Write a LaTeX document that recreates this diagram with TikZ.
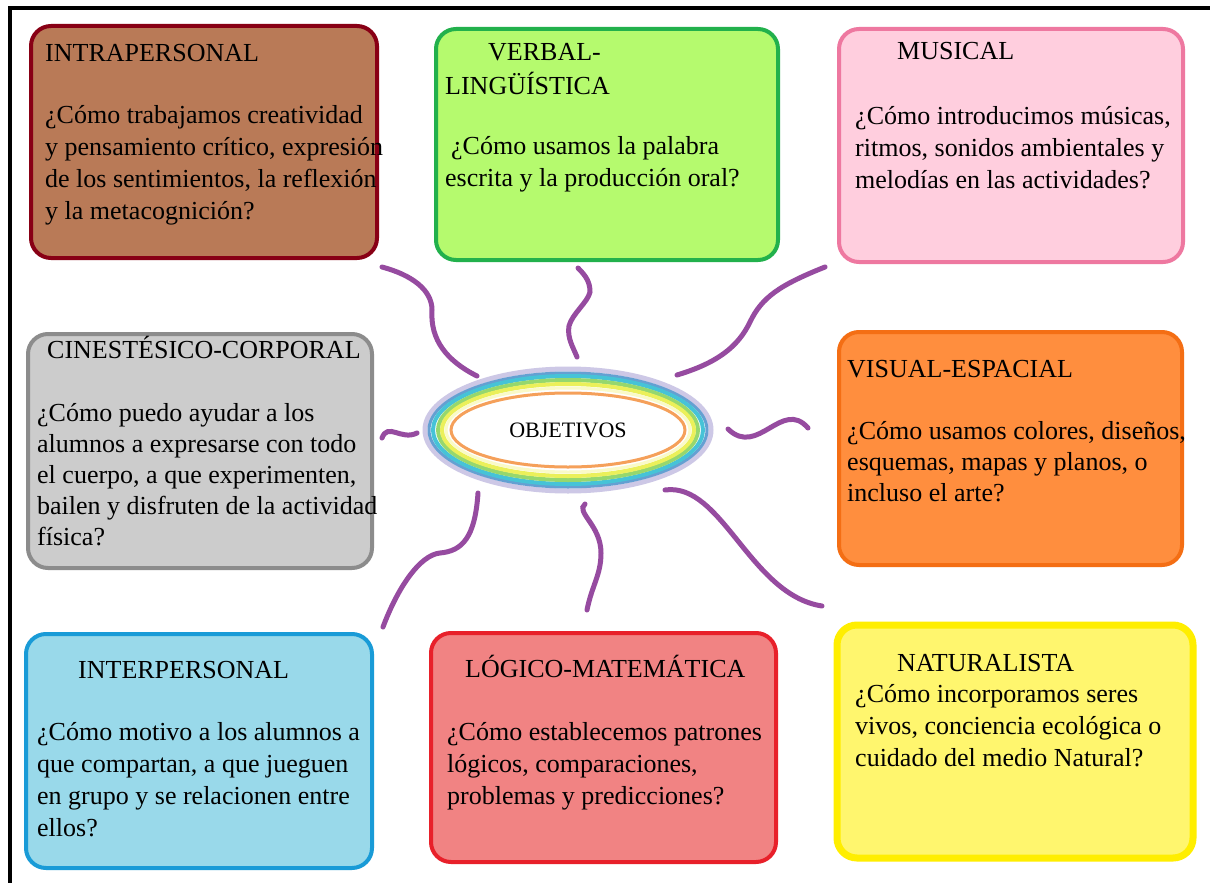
\documentclass[tikz,border=0pt]{standalone}
\usepackage{fontspec}
\setmainfont{Liberation Serif}
\usetikzlibrary{shapes.geometric}

\definecolor{intrafondo}{RGB}{185,122,87}
\definecolor{intraborde}{RGB}{136,0,21}
\definecolor{verbalfondo}{RGB}{181,250,110}
\definecolor{verbalborde}{RGB}{34,177,76}
\definecolor{musicafondo}{RGB}{255,206,222}
\definecolor{musicaborde}{RGB}{238,120,160}
\definecolor{cinefondo}{RGB}{204,204,204}
\definecolor{cineborde}{RGB}{140,140,140}
\definecolor{visualfondo}{RGB}{255,142,62}
\definecolor{visualborde}{RGB}{244,110,20}
\definecolor{interfondo}{RGB}{153,217,234}
\definecolor{interborde}{RGB}{25,155,215}
\definecolor{logicofondo}{RGB}{241,131,131}
\definecolor{logicoborde}{RGB}{232,32,42}
\definecolor{naturfondo}{RGB}{255,246,110}
\definecolor{naturborde}{RGB}{255,238,0}
\definecolor{morado}{RGB}{150,75,160}
\definecolor{anillo1}{RGB}{205,200,230}
\definecolor{anillo2}{RGB}{100,160,210}
\definecolor{anillo3}{RGB}{70,195,215}
\definecolor{anillo4}{RGB}{150,215,110}
\definecolor{anillo5}{RGB}{235,240,90}
\definecolor{anillo6}{RGB}{250,250,200}
\definecolor{anaranjado}{RGB}{245,160,90}

\newcommand{\cuerpo}{\fontsize{26}{32}\selectfont}
\newcommand{\cuerpoc}{\fontsize{26}{31}\selectfont}

\begin{document}
\begin{tikzpicture}[x=1pt, y=-1pt,
  caja/.style 2 args={draw=#2, fill=#1, line width=4pt, rounded corners=20pt, anchor=north west, inner sep=0pt},
  texto/.style={anchor=north west, align=left, inner sep=0pt, font=\cuerpo},
  conector/.style={draw=morado, line width=5pt, line cap=round}]
  \useasboundingbox[fill=white] (0,0) rectangle (1210,883);
  \draw[line width=4pt] (10,883) -- (10,8) -- (1210,8);

  % cajas
  \node[caja={intrafondo}{intraborde}, minimum width=346pt, minimum height=232pt] (intra) at (29,24) {};
  \node[caja={verbalfondo}{verbalborde}, minimum width=342pt, minimum height=231pt] (verbal) at (434,27) {};
  \node[caja={musicafondo}{musicaborde}, minimum width=344pt, minimum height=233pt] (musica) at (837,27) {};
  \node[caja={cinefondo}{cineborde}, minimum width=344pt, minimum height=234pt] (cine) at (26,332) {};
  \node[caja={visualfondo}{visualborde}, minimum width=343pt, minimum height=233pt] (visual) at (837,330) {};
  \node[caja={interfondo}{interborde}, minimum width=346pt, minimum height=234pt] (inter) at (24,632) {};
  \node[caja={logicofondo}{logicoborde}, minimum width=345pt, minimum height=229pt] (logico) at (429,631) {};
  \node[caja={naturfondo}{naturborde}, line width=7pt, minimum width=356pt, minimum height=233pt] (natur) at (833.5,621.5) {};

  % textos
  \node[texto] (tintra) at (45,38.6) {\strut INTRAPERSONAL\\[30pt] ¿Cómo trabajamos creatividad\\ y pensamiento crítico, expresión\\ de los sentimientos, la reflexión\\ y la metacognición?};
  \node[texto] (tverbal) at (445,37.6) {\strut\hspace*{43pt}VERBAL-\\[2pt] LINGÜÍSTICA\\[28pt] \hspace*{6pt}¿Cómo usamos la palabra\\ escrita y la producción oral?};
  \node[texto] (tmusica) at (855,36.6) {\strut\hspace*{42pt}MUSICAL\\[33pt] ¿Cómo introducimos músicas,\\ ritmos, sonidos ambientales y\\ melodías en las actividades?};
  \node[texto, font=\cuerpoc] (tcine) at (37,336.1) {\strut\hspace*{10pt}CINESTÉSICO-CORPORAL\\[32pt] ¿Cómo puedo ayudar a los\\ alumnos a expresarse con todo\\ el cuerpo, a que experimenten,\\ bailen y disfruten de la actividad\\ física?};
  \node[texto, font=\cuerpoc] (tvisual) at (847,355.6) {\strut VISUAL-ESPACIAL\\[31pt] ¿Cómo usamos colores, diseños,\\ esquemas, mapas y planos, o\\ incluso el arte?};
  \node[texto] (tinter) at (37,655.6) {\strut\hspace*{41pt}INTERPERSONAL\\[30pt] ¿Cómo motivo a los alumnos a\\ que compartan, a que jueguen\\ en grupo y se relacionen entre\\ ellos?};
  \node[texto] (tlogico) at (447,654.6) {\strut\hspace*{18pt}LÓGICO-MATEMÁTICA\\[31pt] ¿Cómo establecemos patrones\\ lógicos, comparaciones,\\ problemas y predicciones?};
  \node[texto] (tnatur) at (855,648.6) {\strut\hspace*{42pt}NATURALISTA\\[-1pt] ¿Cómo incorporamos seres\\ vivos, conciencia ecológica o\\ cuidado del medio Natural?};

  % centro
  \foreach \rx/\ry/\col/\lw in {143/61/anillo1/5, 139/57/anillo2/3, 135/54/anillo3/4, 130/50/anillo4/4, 126/46/anillo5/4, 122/42/anillo6/3}
    \draw[\col, line width=\lw pt] (568,430) ellipse [x radius=\rx, y radius=\ry];
  \node[ellipse, draw=anaranjado, line width=3pt, minimum width=234pt, minimum height=74pt, font=\fontsize{22}{26}\selectfont] (obj) at (568,430) {OBJETIVOS};

  % conectores
  \coordinate (c1a) at (382,267); \coordinate (c1b) at (432,310); \coordinate (c1c) at (477,376);
  \draw[conector] (c1a) .. controls +(30,8) and +(0,-20) .. (c1b) .. controls +(-2,30) and +(-30,-15) .. (c1c);
  \coordinate (c2a) at (578,268); \coordinate (c2b) at (590,292); \coordinate (c2c) at (569,326); \coordinate (c2d) at (577,357);
  \draw[conector] (c2a) .. controls +(8,8) and +(0,-10) .. (c2b) .. controls +(-2,10) and +(3,-12) .. (c2c) .. controls +(-2,12) and +(-4,-10) .. (c2d);
  \coordinate (c3a) at (825,267); \coordinate (c3b) at (750,322); \coordinate (c3c) at (677,375);
  \draw[conector] (c3a) .. controls +(-45,18) and +(12,-25) .. (c3b) .. controls +(-12,25) and +(40,-12) .. (c3c);
  \coordinate (c4a) at (382,438); \coordinate (c4b) at (417,433);
  \draw[conector] (c4a) .. controls +(6,-16) and +(-16,8) .. (c4b);
  \coordinate (c5a) at (728,429); \coordinate (c5b) at (808,428);
  \draw[conector] (c5a) .. controls +(30,29) and +(-26,-30) .. (c5b);
  \coordinate (c6a) at (478,493); \coordinate (c6b) at (440,553); \coordinate (c6c) at (383,627);
  \draw[conector] (c6a) .. controls +(-3,45) and +(22,-2) .. (c6b) .. controls +(-20,2) and +(15,-40) .. (c6c);
  \coordinate (c7a) at (585,504); \coordinate (c7b) at (601,553); \coordinate (c7c) at (587,610);
  \draw[conector] (c7a) .. controls +(-10,8) and +(0,-28) .. (c7b) .. controls +(0,22) and +(5,-25) .. (c7c);
  \coordinate (c8a) at (665,490); \coordinate (c8b) at (822,606);
  \draw[conector] (c8a) .. controls +(57,-8) and +(-72,-11) .. (c8b);
\end{tikzpicture}
\end{document}
